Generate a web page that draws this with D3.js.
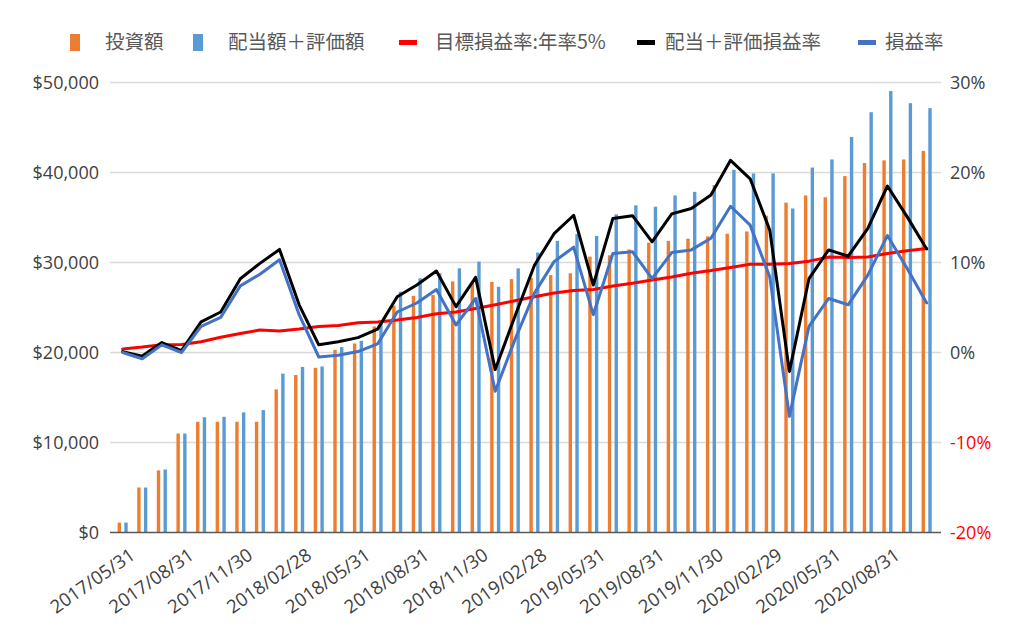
<!DOCTYPE html>
<html><head><meta charset="utf-8">
<script src="https://cdn.jsdelivr.net/npm/d3@7"></script>
<style>
html,body{margin:0;padding:0;background:#fff;}
svg{display:block;}
</style></head>
<body>
<svg id="chart" width="1024" height="633"></svg>
<script>
const categories = ["2017/05/31","2017/06/30","2017/07/31","2017/08/31","2017/09/30","2017/10/31","2017/11/30","2017/12/31","2018/01/31","2018/02/28","2018/03/31","2018/04/30","2018/05/31","2018/06/30","2018/07/31","2018/08/31","2018/09/30","2018/10/31","2018/11/30","2018/12/31","2019/01/31","2019/02/28","2019/03/31","2019/04/30","2019/05/31","2019/06/30","2019/07/31","2019/08/31","2019/09/30","2019/10/31","2019/11/30","2019/12/31","2020/01/31","2020/02/29","2020/03/31","2020/04/30","2020/05/31","2020/06/30","2020/07/31","2020/08/31","2020/09/30","2020/10/31"];
const invested = [1100,5000,6900,11000,12300,12300,12300,12300,15900,17500,18300,20300,21000,22900,25200,26300,26400,27900,27800,27850,28150,28300,28600,28800,30650,30800,31450,32200,32400,32650,32900,33200,33450,35200,36650,37450,37250,39600,41050,41350,41450,42400];
const valuation = [1100,5000,7000,11000,12800,12850,13350,13600,17650,18400,18450,20600,21300,23450,26750,28250,28800,29350,30100,27300,29350,31100,32400,33150,32950,35350,36350,36200,37450,37850,38600,40300,39900,39900,36000,40550,41450,43950,46700,49050,47700,47150];
const targetRate = [0.4,0.6,0.85,0.9,1.2,1.7,2.1,2.5,2.4,2.6,2.9,3.0,3.3,3.4,3.6,3.9,4.3,4.5,4.9,5.3,5.75,6.2,6.6,6.9,7.0,7.4,7.7,8.05,8.4,8.8,9.1,9.45,9.8,9.8,9.9,10.15,10.6,10.55,10.6,11.0,11.3,11.55];
const totalRate = [0.1,-0.4,1.1,0.2,3.4,4.5,8.2,9.9,11.45,5.3,0.85,1.2,1.65,2.6,6.2,7.5,9.05,5.1,8.35,-1.9,4.0,9.7,13.2,15.25,7.5,14.9,15.2,12.3,15.4,16.0,17.5,21.35,19.3,13.6,-2.1,8.2,11.4,10.7,13.8,18.5,15.1,11.5];
const profitRate = [0.0,-0.7,0.85,0.0,2.9,3.9,7.4,8.7,10.3,4.2,-0.5,-0.3,0.1,0.95,4.5,5.5,7.0,3.05,6.0,-4.3,1.4,6.6,10.1,11.7,4.2,11.0,11.2,8.2,11.1,11.4,12.7,16.25,14.15,8.4,-7.1,2.9,6.0,5.3,8.6,13.0,9.35,5.5];
const leftTickValues = [0,10000,20000,30000,40000,50000];
const leftTickLabels = ["$0","$10,000","$20,000","$30,000","$40,000","$50,000"];
const rightTickValues = [-20,-10,0,10,20,30];
const rightTickLabels = ["-20%","-10%","0%","10%","20%","30%"];
const seriesNames = ["投資額","配当額＋評価額","目標損益率:年率5%","配当＋評価損益率","損益率"];

const svg = d3.select("#chart");
const plotL = 110, plotR = 941, plotT = 82.5, plotB = 532.5;
const x = d3.scaleBand().domain(categories).range([112.85, 936.45]);
const yL = d3.scaleLinear().domain([0, 50000]).range([plotB, plotT]);
const yR = d3.scaleLinear().domain([-20, 30]).range([plotB, plotT]);
const cx = d => x(d) + x.bandwidth() / 2;

const numFont = "'Open Sans', 'Noto Sans', sans-serif";
const cjkFont = "'Noto Sans CJK JP', 'Noto Sans', sans-serif";

// gridlines
svg.append("g").selectAll("line").data(leftTickValues.filter(v => v > 0)).join("line")
  .attr("x1", plotL).attr("x2", plotR)
  .attr("y1", d => yL(d)).attr("y2", d => yL(d))
  .attr("stroke", "#d9d9d9").attr("stroke-width", 1.3);

// bars
const barW = 3.4, off = 3.35;
svg.append("g").selectAll("rect").data(categories).join("rect")
  .attr("x", (d) => cx(d) - off - barW / 2)
  .attr("y", (d, i) => yL(invested[i]))
  .attr("width", barW)
  .attr("height", (d, i) => plotB - yL(invested[i]))
  .attr("fill", "#ED7D31");
svg.append("g").selectAll("rect").data(categories).join("rect")
  .attr("x", (d) => cx(d) + off - barW / 2)
  .attr("y", (d, i) => yL(valuation[i]))
  .attr("width", barW)
  .attr("height", (d, i) => plotB - yL(valuation[i]))
  .attr("fill", "#5B9BD5");

// axis baseline
svg.append("line").attr("x1", plotL).attr("x2", plotR).attr("y1", plotB).attr("y2", plotB)
  .attr("stroke", "#595959").attr("stroke-width", 1.6);

// lines
const lineGen = arr => d3.line().x((d) => cx(d)).y((d, i) => yR(arr[i]))(categories);
[[targetRate, "#FF0000"], [totalRate, "#000000"], [profitRate, "#4472C4"]].forEach(([arr, col]) => {
  svg.append("path").attr("d", lineGen(arr)).attr("fill", "none")
    .attr("stroke", col).attr("stroke-width", 3).attr("stroke-linejoin", "round").attr("stroke-linecap", "round");
});

// left axis
const axL = svg.append("g").attr("transform", `translate(${plotL - 11},0)`)
  .call(d3.axisLeft(yL).tickValues(leftTickValues).tickSize(0).tickPadding(0)
    .tickFormat((d, i) => leftTickLabels[i]));
axL.select(".domain").remove();
axL.selectAll("text").attr("font-family", numFont).attr("font-size", 18).attr("fill", "#404040");

// right axis
const axR = svg.append("g").attr("transform", `translate(${plotR + 9},0)`)
  .call(d3.axisRight(yR).tickValues(rightTickValues).tickSize(0).tickPadding(0)
    .tickFormat((d, i) => rightTickLabels[i]));
axR.select(".domain").remove();
axR.selectAll("text").attr("font-family", numFont).attr("font-size", 18)
  .attr("fill", d => d < 0 ? "#FF0000" : "#404040");

// x labels
svg.append("g").selectAll("text").data(categories.filter((d, i) => i % 3 === 0)).join("text")
  .attr("transform", d => `translate(${cx(d) + 10},${plotB + 20}) rotate(-35)`)
  .attr("text-anchor", "end").attr("dy", "0.35em")
  .attr("font-family", numFont).attr("font-size", 18.5).attr("fill", "#404040")
  .text(d => d);

// legend
const legendItems = [
  {name: seriesNames[0], type: "bar", color: "#ED7D31", sx: 70, tx: 105},
  {name: seriesNames[1], type: "bar", color: "#5B9BD5", sx: 193, tx: 228},
  {name: seriesNames[2], type: "line", color: "#FF0000", sx: 399, tx: 435},
  {name: seriesNames[3], type: "line", color: "#000000", sx: 637, tx: 665},
  {name: seriesNames[4], type: "line", color: "#4472C4", sx: 858, tx: 885}
];
const lg = svg.append("g");
legendItems.forEach(it => {
  if (it.type === "bar") {
    lg.append("rect").attr("x", it.sx).attr("y", 34).attr("width", 10).attr("height", 17).attr("fill", it.color);
  } else {
    lg.append("rect").attr("x", it.sx).attr("y", 40).attr("width", 18).attr("height", 5).attr("fill", it.color);
  }
  lg.append("text").attr("x", it.tx).attr("y", 42.5).attr("dy", "0.35em")
    .attr("font-family", cjkFont).attr("font-size", 19.5).attr("fill", "#595959").text(it.name);
});
</script>
</body></html>
